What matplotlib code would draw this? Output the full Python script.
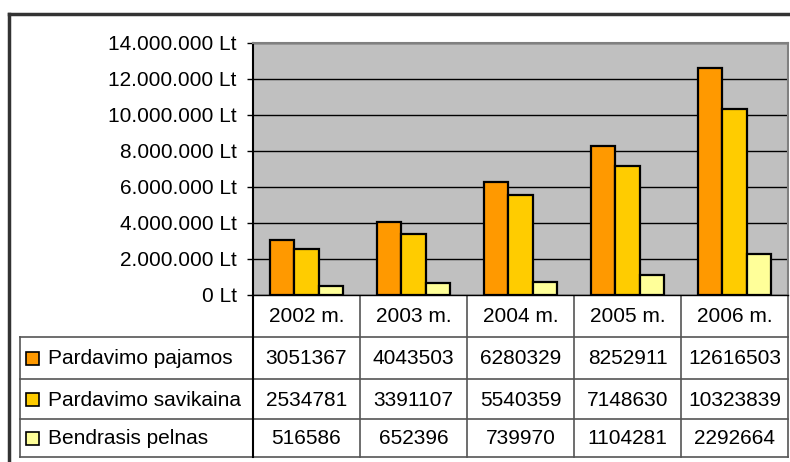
import numpy as np
import matplotlib.pyplot as plt
from matplotlib.patches import Rectangle
from matplotlib.ticker import FuncFormatter

plt.rcParams['font.family'] = ['Liberation Sans', 'DejaVu Sans']

years = ['2002 m.', '2003 m.', '2004 m.', '2005 m.', '2006 m.']
series_names = ['Pardavimo pajamos', 'Pardavimo savikaina', 'Bendrasis pelnas']
pajamos = [3051367, 4043503, 6280329, 8252911, 12616503]
savikaina = [2534781, 3391107, 5540359, 7148630, 10323839]
pelnas = [516586, 652396, 739970, 1104281, 2292664]
colors = ['#FF9900', '#FFCC00', '#FFFF99']

W, H = 790, 462
fig = plt.figure(figsize=(W / 100, H / 100), dpi=100)

# layout in pixels
px0, px1, py_top, py0 = 253, 788, 43, 295
row_edges = [295, 337, 379, 419, 457]
label_x0 = 20
fs = 15

ax = fig.add_axes([px0 / W, 1 - py0 / H, (px1 - px0) / W, (py0 - py_top) / H])
ax.set_facecolor('#C0C0C0')
x = np.arange(len(years))
bw = 0.229
for i, vals in enumerate([pajamos, savikaina, pelnas]):
    ax.bar(x + (i - 1) * bw, vals, bw, color=colors[i], edgecolor='black',
           linewidth=1.6, zorder=3)
ax.set_xlim(-0.5, len(years) - 0.5)
ax.set_ylim(0, 14000000)
ax.set_yticks(np.arange(0, 14000001, 2000000))
ax.yaxis.set_major_formatter(FuncFormatter(lambda v, p: f"{int(v):,} Lt".replace(',', '.')))
ax.tick_params(axis='y', labelsize=fs, length=4.3, width=1, direction='out', pad=7.5)
ax.set_xticks([])
ax.grid(axis='y', color='black', linewidth=1, zorder=1)
for s in ['top', 'right']:
    ax.spines[s].set_color('#808080')
    ax.spines[s].set_linewidth(1.5)
ax.spines['left'].set_color('black')
ax.spines['left'].set_linewidth(1.5)
ax.spines['bottom'].set_color('black')
ax.spines['bottom'].set_linewidth(1)

# data table drawn in pixel coordinates
tax = fig.add_axes([0, 0, 1, 1], zorder=-1)
tax.set_xlim(0, W)
tax.set_ylim(H, 0)
tax.axis('off')

# outer chart frame
tax.plot([9, W], [14, 14], color='#333333', lw=2.5)
tax.plot([9, 9], [14, H], color='#333333', lw=2.5)

col_edges = np.linspace(px0, px1, len(years) + 1)
lc = '#555555'
for yy in row_edges[1:]:
    tax.plot([label_x0, px1], [yy, yy], color=lc, lw=1.2)
tax.plot([label_x0, label_x0], [row_edges[1], row_edges[-1]], color=lc, lw=1.2)
tax.plot([px0, px0], [row_edges[0], row_edges[-1]], color='black', lw=1.5)
for xe in col_edges[1:]:
    tax.plot([xe, xe], [row_edges[0], row_edges[-1]], color=lc, lw=1.2)

for j, yr in enumerate(years):
    cx = (col_edges[j] + col_edges[j + 1]) / 2
    tax.text(cx, (row_edges[0] + row_edges[1]) / 2 + 1, yr, ha='center', va='center', fontsize=fs)

for i, (name, vals) in enumerate(zip(series_names, [pajamos, savikaina, pelnas])):
    cy = (row_edges[i + 1] + row_edges[i + 2]) / 2
    tax.add_patch(Rectangle((26, cy - 6.5), 13, 13, facecolor=colors[i],
                            edgecolor='black', lw=1.2))
    tax.text(48, cy + 1, name, ha='left', va='center', fontsize=fs)
    for j, v in enumerate(vals):
        cx = (col_edges[j] + col_edges[j + 1]) / 2
        tax.text(cx, cy + 1, str(v), ha='center', va='center', fontsize=fs)

fig.savefig('out.png', dpi=100)
